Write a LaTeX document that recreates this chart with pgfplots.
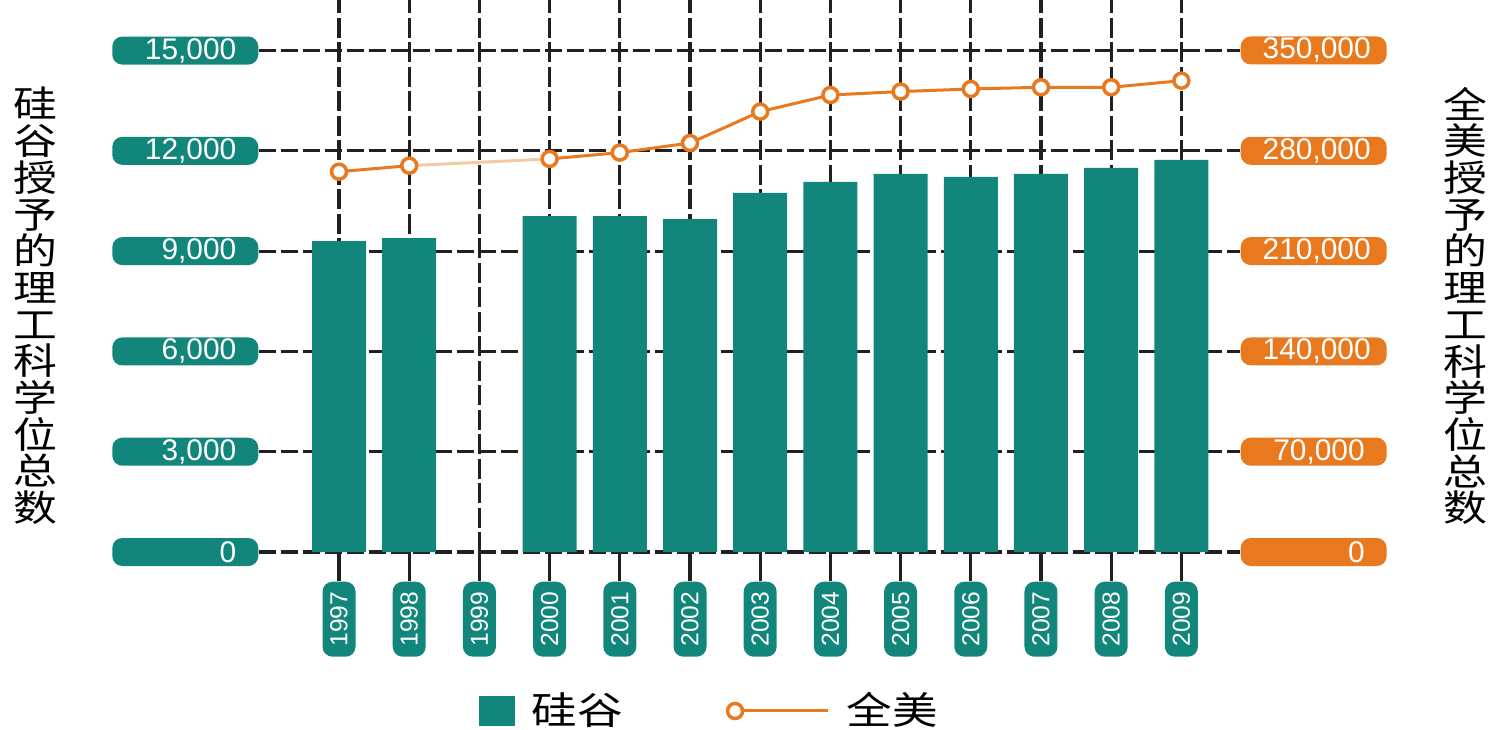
\documentclass[border=0pt]{standalone}
\usepackage{fontspec}
\setmainfont{Liberation Sans}
\newfontfamily\cjk[FakeStretch=1.2]{Noto Sans CJK SC}
\usepackage{pgfplots}
\usepackage{pgfplotstable}
\pgfplotsset{compat=1.18}

\definecolor{sgreen}{RGB}{18,134,122}
\definecolor{sorange}{RGB}{232,121,30}
\definecolor{gridblk}{RGB}{35,31,32}

% 硅谷 (bars) and 全美 (line); 1999 has no data
\pgfplotstableread{
x  year  sv     us
0  1997  9300   265400
1  1998  9390   269600
2  1999  nan    nan
3  2000  10050  274300
4  2001  10050  278700
5  2002  9960   285400
6  2003  10740  307300
7  2004  11070  318900
8  2005  11310  321300
9  2006  11220  323100
10 2007  11310  324300
11 2008  11490  324300
12 2009  11730  328900
}\degrees

\begin{document}
\begin{tikzpicture}
\path[use as bounding box] (0,0) rectangle (148.8mm,72.9mm);

\pgfplotsset{
  twin/.style={
    scale only axis, width=98.1mm, height=55.2mm,
    at={(25.9mm,17.7mm)}, anchor=south west,
    xmin=-1.14, xmax=12.835,
    axis line style={draw=none},
    scaled y ticks=false,
    /pgf/number format/.cd, fixed, 1000 sep={,}, assume math mode=true, /pgfplots/.cd,
    ytick style={draw=none},
    clip=false,
  },
}

\begin{axis}[twin,
  ymin=0, ymax=16512,
  ytick={0,3000,...,15000},
  ytick pos=left,
  xtick={0,...,12},
  xticklabels={1997,1998,1999,2000,2001,2002,2003,2004,2005,2006,2007,2008,2009},
  xtick pos=left, xtick align=outside,
  major tick length=2.9mm,
  xtick style={gridblk, solid, line width=0.32mm},
  xticklabel style={rotate=90, anchor=east, fill=sgreen, text=white,
    rounded corners=1mm, minimum width=7.5mm, minimum height=3.3mm, inner sep=0pt,
    font=\fontsize{7}{7}\selectfont},
  yticklabel style={anchor=east, fill=sgreen, text=white, rounded corners=1mm,
    text width=10.2mm, align=right, inner xsep=2.2mm, minimum height=2.8mm, inner ysep=0pt,
    font=\fontsize{8.5}{8.5}\selectfont},
  grid=major,
  x grid style={gridblk, line width=0.32mm, dash pattern=on 2.0mm off 0.45mm},
  y grid style={gridblk, line width=0.32mm, dash pattern=on 1.7mm off 0.5mm},
  ylabel={\cjk 硅\\谷\\授\\予\\的\\理\\工\\科\\学\\位\\总\\数},
  every axis y label/.style={at={(axis description cs:-0.2283,0.4457)}, anchor=center,
    align=center, font=\cjk\fontsize{10.4}{10.44}\selectfont},
]
\addplot[ybar, bar width=5.4mm, fill=sgreen, draw=none] table[x=x, y=sv] {\degrees};
\end{axis}

\begin{axis}[twin,
  ymin=0, ymax=385196,
  ytick={0,70000,...,350000},
  axis y line*=right,
  hide x axis,
  yticklabel style={anchor=west, fill=sorange, text=white, rounded corners=1mm,
    text width=10.2mm, align=right, inner xsep=2.2mm, minimum height=2.8mm, inner ysep=0pt,
    font=\fontsize{8.5}{8.5}\selectfont},
  ylabel={\cjk 全\\美\\授\\予\\的\\理\\工\\科\\学\\位\\总\\数},
  every axis y label/.style={at={(axis description cs:1.2294,0.4457)}, anchor=center,
    align=center, font=\cjk\fontsize{10.4}{10.44}\selectfont},
  legend style={at={(axis description cs:0.2131,-0.288)}, anchor=west, draw=none, fill=none,
    legend columns=2, font=\cjk\fontsize{10.8}{10.8}\selectfont,
    nodes={inner sep=0pt},
    /tikz/every odd column/.append style={column sep=1.7mm},
    /tikz/every even column/.append style={column sep=10.3mm}},
  unbounded coords=jump,
]
\addlegendimage{legend image code/.code={\fill[sgreen] (0mm,-1.4mm) rectangle (3.4mm,1.4mm);}}
\addlegendentry{硅谷}
\addplot[sorange!40, line width=0.3mm, forget plot] coordinates {(1,269600) (3,274300)};
\addplot[sorange, line width=0.3mm, mark=*, mark size=0.75mm,
  mark options={fill=white, draw=sorange, line width=0.35mm},
  legend image code/.code={\draw[sorange, line width=0.3mm] (0mm,0mm) -- (9.3mm,0mm);
    \draw[sorange, fill=white, line width=0.35mm] (0mm,0mm) circle (0.75mm);}]
  table[x=x, y=us] {\degrees};
\addlegendentry{全美}
\end{axis}
\end{tikzpicture}
\end{document}
